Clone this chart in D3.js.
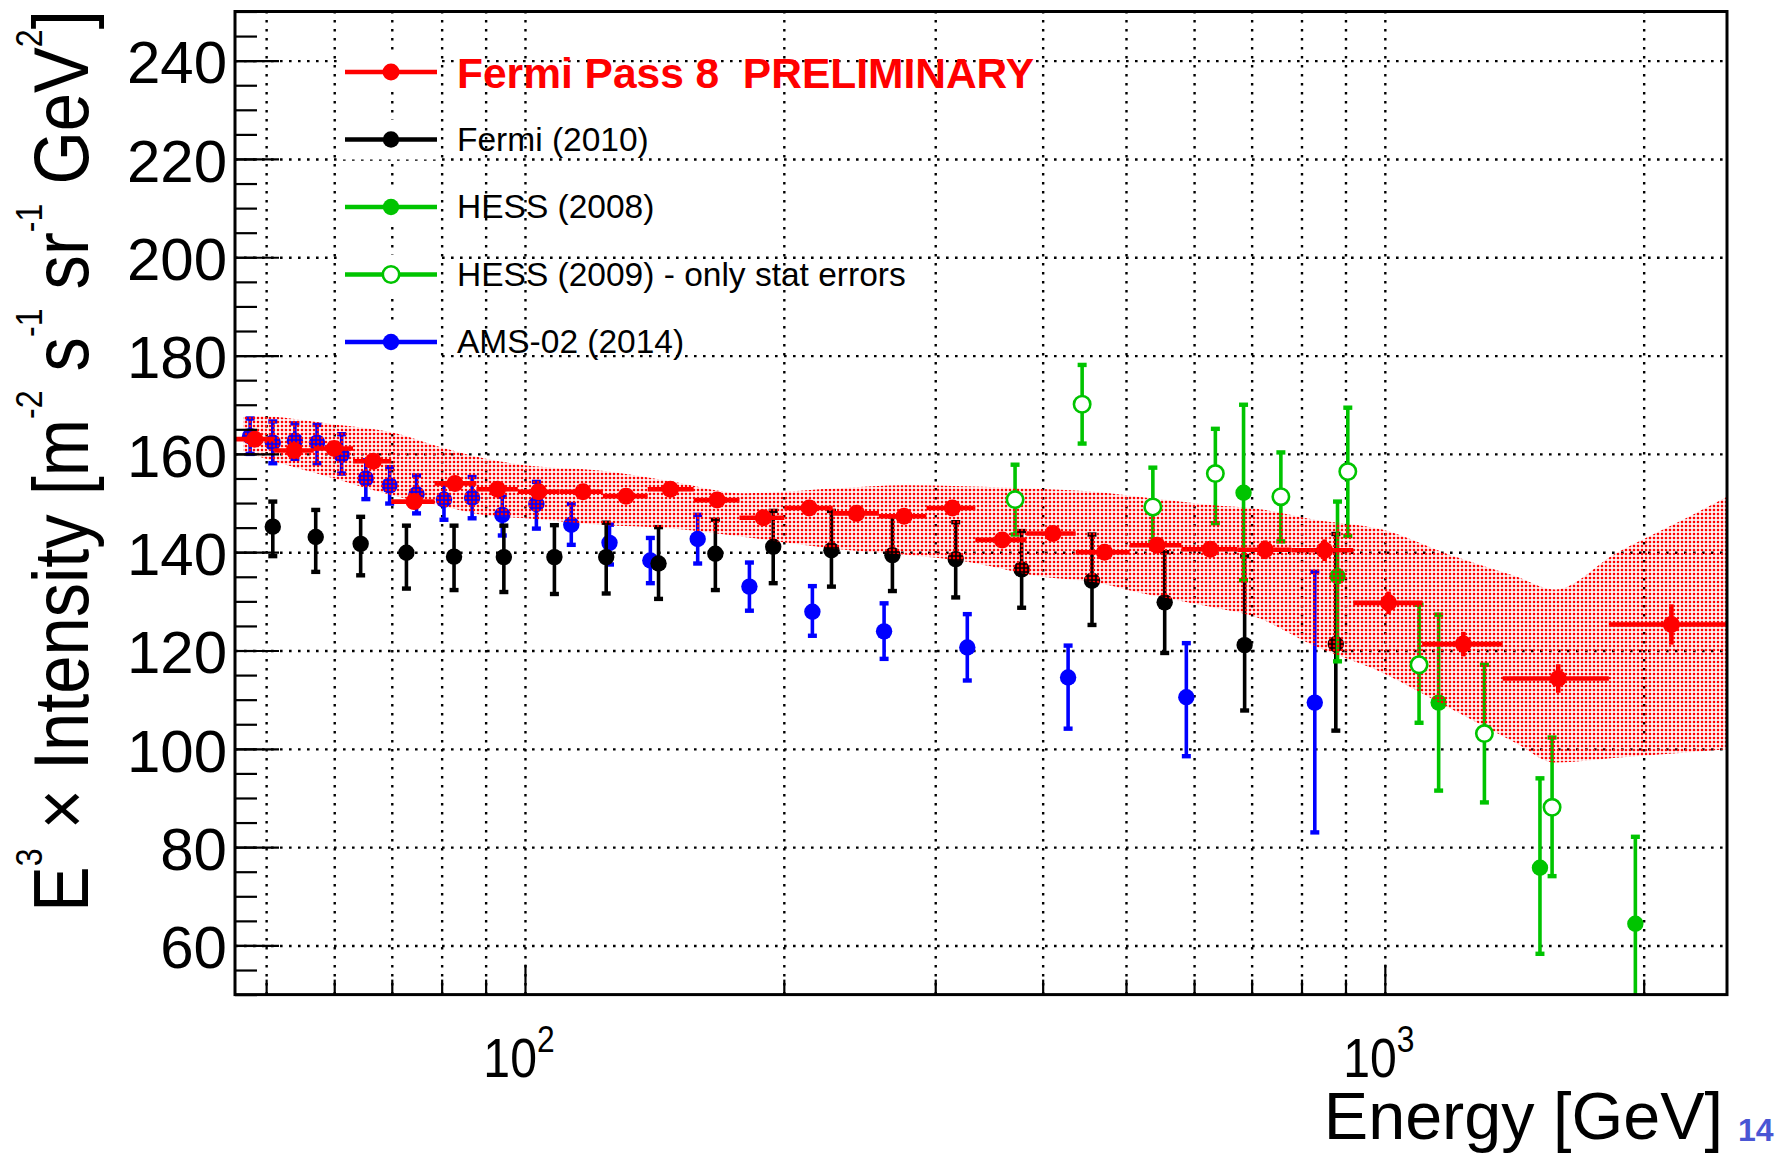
<!DOCTYPE html>
<html>
<head>
<meta charset="utf-8">
<script src="https://cdn.jsdelivr.net/npm/d3@7"></script>
<style>
  body { margin: 0; background: #fff; }
  svg { display: block; }
  text { font-family: "Liberation Sans", Arial, Helvetica, sans-serif; }
</style>
</head>
<body>
<svg id="chart" width="1777" height="1154"></svg>
<script>
// ---------------- data ----------------
// Fermi Pass 8 (preliminary): bin centres, E^3 x intensity, stat errors, bin edges
const pass8E    = [48.5, 53.9, 60.0, 66.6, 74.3, 82.9, 92.9, 103.7, 116.8, 131.1, 147.6, 167.3, 189.3, 214.1,
                   243.0, 276.0, 314.1, 358.9, 411.1, 472.1, 543.3, 626.6, 726, 851, 1010, 1234, 1591, 2154];
const pass8V    = [163.0, 160.7, 161.1, 158.5, 150.3, 154.0, 152.8, 152.3, 152.3, 151.4, 152.8, 150.6, 147.0, 149.0,
                   147.9, 147.3, 149.0, 142.5, 143.8, 140.0, 141.4, 140.6, 140.5, 140.4, 129.7, 121.3, 114.3, 125.3];
const pass8Err  = [1.0, 1.0, 1.0, 1.0, 1.0, 1.0, 1.0, 1.0, 1.0, 1.0, 1.0, 1.0, 1.0, 1.0,
                   1.0, 1.0, 1.2, 1.2, 1.3, 1.4, 1.5, 1.6, 1.9, 2.2, 2.3, 2.5, 2.9, 4.1];
const pass8Edges = [46, 51.1, 56.8, 63.1, 69.9, 78.5, 87.8, 98.1, 109.7, 123.2, 138.9, 157.1, 177.6, 200.3, 228,
                    258, 293, 334, 383, 437, 505, 580, 674, 779, 919, 1105, 1371, 1822, 2500];

// Pass 8 systematic band
const bandE  = [47, 48.5, 60, 70, 80, 90, 100, 122, 146, 180, 232, 277, 323, 393, 473, 517, 565, 618, 713,
                829, 993, 1189, 1420, 1577, 1857, 2222, 2500];
const bandLo = [160.5, 159.7, 155.0, 151.6, 149.4, 147.5, 146.9, 145.6, 144.9, 143.1, 140.6, 139.5, 138.2, 135.2,
                133.5, 131.8, 130.5, 129.1, 126.6, 120.9, 115.5, 108.3, 101.2, 97.2, 98.2, 99.2, 99.9];
const bandHi = [167.5, 167.7, 166.0, 164.4, 161.3, 159.0, 157.7, 156.6, 154.6, 152.0, 153.0, 153.6, 153.4, 152.9,
                152.1, 151.3, 150.5, 149.7, 148.8, 146.6, 144.6, 139.5, 135.1, 132.4, 139.8, 146.6, 151.3];

// Fermi (2010)
const fermi10E  = [50.9, 57.1, 64.4, 72.8, 82.7, 94.5, 108.2, 124.3, 143.0, 166.5, 194.4, 227.2, 267.5, 316.9,
                   378.1, 456.5, 554.6, 687, 877];
const fermi10V  = [145.2, 143.1, 141.7, 139.9, 139.1, 139.0, 139.0, 139.0, 137.7, 139.7, 141.1, 140.4, 139.4, 138.6,
                   136.5, 134.2, 129.8, 121.1, 121.3];
const fermi10Hi = [150.3, 148.6, 147.2, 145.4, 145.4, 145.4, 145.5, 146.0, 145.1, 146.6, 148.4, 148.4, 147.3, 146.1,
                   144.3, 143.6, 140.0, 139.2, 143.7];
const fermi10Lo = [139.2, 136.0, 135.3, 132.6, 132.3, 131.9, 131.5, 131.6, 130.5, 132.3, 133.7, 133.0, 132.1, 130.8,
                   128.7, 125.2, 119.5, 107.8, 103.7];

// AMS-02 (2014)
const amsE  = [47.9, 50.9, 54.0, 57.3, 61.2, 65.3, 69.6, 74.8, 80.5, 86.8, 94.1, 103.1, 113.2, 125.4, 139.9,
               158.8, 182.4, 215.9, 261.6, 326.9, 428.2, 587.7, 829];
const amsV  = [163.6, 162.3, 162.7, 162.3, 159.8, 155.0, 153.6, 151.8, 150.7, 151.1, 147.6, 149.8, 145.6, 141.9,
               138.3, 142.7, 133.0, 127.9, 123.9, 120.6, 114.5, 110.5, 109.4];
const amsHi = [167.2, 166.6, 166.2, 165.9, 164.0, 158.7, 157.3, 155.6, 154.0, 155.3, 151.3, 154.3, 149.8, 145.6,
               142.9, 147.6, 137.9, 133.1, 129.6, 127.4, 121.0, 121.5, 136.0];
const amsLo = [160.0, 158.1, 159.0, 158.1, 156.0, 150.8, 149.9, 147.9, 146.6, 146.9, 143.4, 144.8, 141.5, 137.5,
               133.7, 137.7, 128.1, 123.0, 118.3, 113.9, 104.1, 98.5, 83.0];

// HESS (2008)
const hess08E  = [685, 881, 1155, 1515, 1956];
const hess08V  = [152.1, 135.1, 109.4, 75.8, 64.4];
const hess08Hi = [170.0, 150.3, 127.3, 94.0, 82.1];
const hess08Lo = [134.3, 117.8, 91.5, 58.3, 48.0];

// HESS (2009), statistical errors only
const hess09E  = [371.5, 444.6, 537.3, 635.2, 757, 905.6, 1096, 1305.6, 1565];
const hess09V  = [150.7, 170.1, 149.2, 156.0, 151.3, 156.4, 117.1, 103.1, 88.1];
const hess09Hi = [157.8, 178.1, 157.2, 165.1, 160.3, 169.4, 129.3, 117.1, 102.3];
const hess09Lo = [143.6, 162.1, 142.1, 145.9, 142.2, 143.3, 105.3, 89.1, 74.1];

// axis ticks and legend
const xTicksMajor = [100, 1000];
const xTicksMinor = [50, 60, 70, 80, 90, 200, 300, 400, 500, 600, 700, 800, 900, 2000];
const yTicksMajor = [60, 80, 100, 120, 140, 160, 180, 200, 220, 240];
const legendLabels = ["Fermi Pass 8  PRELIMINARY", "Fermi (2010)", "HESS (2008)", "HESS (2009) - only stat errors", "AMS-02 (2014)"];

// ---------------- layout ----------------
const RED = "#ff0000", BLACK = "#000000", GREEN = "#00c400", BLUE = "#0000ff";
const frame = { left: 235, right: 1727, top: 11.5, bottom: 994.6 };
const plotW = frame.right - frame.left, plotH = frame.bottom - frame.top;
const R_MARK = 8.2;

const x = d3.scaleLog().domain([46, 2500]).range([frame.left, frame.right]);
const y = d3.scaleLinear().domain([50, 250]).range([frame.bottom, frame.top]);

const svg = d3.select("#chart");
const defs = svg.append("defs");
defs.append("clipPath").attr("id", "plotClip")
  .append("rect").attr("x", frame.left).attr("y", frame.top).attr("width", plotW).attr("height", plotH);
const dots = defs.append("pattern").attr("id", "redDots")
  .attr("patternUnits", "userSpaceOnUse").attr("width", 4).attr("height", 4);
dots.append("rect").attr("x", 0.8).attr("y", 0.8).attr("width", 2.4).attr("height", 2.4).attr("fill", RED);

// ---------------- grid ----------------
const gridG = svg.append("g").attr("class", "grid");
gridG.append("g").attr("transform", `translate(0,${frame.bottom})`)
  .call(d3.axisBottom(x).tickValues(xTicksMajor.concat(xTicksMinor)).tickSize(-plotH).tickFormat(""))
  .call(g => g.select(".domain").remove());
gridG.append("g").attr("transform", `translate(${frame.left},0)`)
  .call(d3.axisLeft(y).tickValues(yTicksMajor).tickSize(-plotW).tickFormat(""))
  .call(g => g.select(".domain").remove());
gridG.selectAll("line").attr("stroke", "#000").attr("stroke-width", 2.4).attr("stroke-dasharray", "2.6,6.4");

// ---------------- data layers ----------------
const dataG = svg.append("g").attr("clip-path", "url(#plotClip)");

function rows(E, V, lo, hi) {
  return E.map((e, i) => ({ e, v: V[i], lo: lo[i], hi: hi[i] }));
}

function errorBars(g, pts, color) {
  const b = g.append("g");
  b.selectAll("line").data(pts).join("line")
    .attr("x1", d => x(d.e)).attr("x2", d => x(d.e))
    .attr("y1", d => y(d.lo)).attr("y2", d => y(d.hi))
    .attr("stroke", color).attr("stroke-width", 3.6);
  const ends = pts.flatMap(d => [d.lo, d.hi].map(v => ({ e: d.e, v })));
  b.selectAll("rect").data(ends).join("rect")
    .attr("x", d => x(d.e) - 4.5).attr("y", d => y(d.v) - 2.2)
    .attr("width", 9).attr("height", 4.4).attr("fill", color);
}

function filledMarkers(g, pts, color, r) {
  g.append("g").selectAll("circle").data(pts).join("circle")
    .attr("cx", d => x(d.e)).attr("cy", d => y(d.v)).attr("r", r).attr("fill", color);
}

const ams = rows(amsE, amsV, amsLo, amsHi);
const fermi10 = rows(fermi10E, fermi10V, fermi10Lo, fermi10Hi);
const hess08 = rows(hess08E, hess08V, hess08Lo, hess08Hi);
const hess09 = rows(hess09E, hess09V, hess09Lo, hess09Hi);

errorBars(dataG, hess09, GREEN);
errorBars(dataG, ams, BLUE);      filledMarkers(dataG, ams, BLUE, R_MARK);
errorBars(dataG, fermi10, BLACK); filledMarkers(dataG, fermi10, BLACK, R_MARK);
errorBars(dataG, hess08, GREEN);  filledMarkers(dataG, hess08, GREEN, R_MARK);

// systematic band
const band = bandE.map((e, i) => ({ e, lo: bandLo[i], hi: bandHi[i] }));
dataG.append("path").datum(band)
  .attr("d", d3.area().x(d => x(d.e)).y0(d => y(d.lo)).y1(d => y(d.hi)).curve(d3.curveMonotoneX))
  .attr("fill", "url(#redDots)");

// HESS 2009 open markers
dataG.append("g").selectAll("circle").data(hess09).join("circle")
  .attr("cx", d => x(d.e)).attr("cy", d => y(d.v)).attr("r", R_MARK)
  .attr("fill", "#fff").attr("stroke", GREEN).attr("stroke-width", 2.6);

// Pass 8 points with bin-width bars
const pass8 = pass8E.map((e, i) => ({ e, v: pass8V[i], err: pass8Err[i], x0: pass8Edges[i], x1: pass8Edges[i + 1] }));
const p8G = dataG.append("g");
p8G.selectAll("line.h").data(pass8).join("line").attr("class", "h")
  .attr("x1", d => x(d.x0)).attr("x2", d => x(d.x1))
  .attr("y1", d => y(d.v)).attr("y2", d => y(d.v))
  .attr("stroke", RED).attr("stroke-width", 4.6);
p8G.selectAll("line.v").data(pass8).join("line").attr("class", "v")
  .attr("x1", d => x(d.e)).attr("x2", d => x(d.e))
  .attr("y1", d => y(d.v - d.err)).attr("y2", d => y(d.v + d.err))
  .attr("stroke", RED).attr("stroke-width", 4.6);
filledMarkers(p8G, pass8, RED, 8.5);

// ---------------- axes ----------------
const axG = svg.append("g");
axG.append("g").attr("transform", `translate(0,${frame.bottom})`)
  .call(d3.axisBottom(x).tickValues(xTicksMinor).tickSize(-15).tickFormat(""));
axG.append("g").attr("transform", `translate(0,${frame.bottom})`)
  .call(d3.axisBottom(x).tickValues(xTicksMajor).tickSize(-30).tickFormat(""));
axG.append("g").attr("transform", `translate(${frame.left},0)`)
  .call(d3.axisLeft(y).tickValues(d3.range(50, 251, 5)).tickSize(-22).tickFormat(""));
const yAxis = axG.append("g").attr("transform", `translate(${frame.left},0)`)
  .call(d3.axisLeft(y).tickValues(yTicksMajor).tickSize(-44).tickPadding(8).tickFormat(d3.format("d")));
yAxis.selectAll("text").attr("font-size", 60).attr("dy", "0.37em").attr("fill", "#000")
  .style("font-family", '"Liberation Sans", Arial, sans-serif');
axG.selectAll(".domain").remove();
axG.selectAll(".tick line").attr("stroke", "#000").attr("stroke-width", 2.2);

svg.append("rect").attr("x", frame.left).attr("y", frame.top).attr("width", plotW).attr("height", plotH)
  .attr("fill", "none").attr("stroke", "#000").attr("stroke-width", 3);

// x tick labels 10^n
xTicksMajor.forEach(v => {
  const t = svg.append("text").attr("transform", `translate(${x(v) - 6},1077) scale(0.86,1)`)
    .attr("text-anchor", "middle").attr("font-size", 56).attr("fill", "#000");
  t.append("tspan").text("10");
  t.append("tspan").attr("font-size", 37).attr("dy", -25).text(String(Math.round(Math.log10(v))));
});

// axis titles
svg.append("text").attr("x", 1723).attr("y", 1139).attr("text-anchor", "end")
  .attr("font-size", 66.5).attr("fill", "#000").text("Energy [GeV]");

const yTitle = svg.append("text").attr("font-size", 77).attr("fill", "#000");
const titleParts = [["E", 0], ["3", 1], [" \u00d7 Intensity [m", 0], ["-2", 1], [" s", 0], ["-1", 1],
                    [" sr", 0], ["-1", 1], [" GeV", 0], ["2", 1], ["]", 0]];
let raised = false;
titleParts.forEach(([t, sup]) => {
  const ts = yTitle.append("tspan").style("white-space", "pre").text(t);
  if (sup) { ts.attr("font-size", 36).attr("dy", raised ? 0 : -46); raised = true; }
  else if (raised) { ts.attr("dy", 46); raised = false; }
});
const titleLen = yTitle.node().getComputedTextLength();
yTitle.attr("transform", `translate(88,912) rotate(-90) scale(${902 / titleLen},1)`);

// ---------------- legend ----------------
const legendStyles = [
  { color: RED, open: false, r: 8.5 },
  { color: BLACK, open: false, r: R_MARK },
  { color: GREEN, open: false, r: R_MARK },
  { color: GREEN, open: true, r: R_MARK },
  { color: BLUE, open: false, r: R_MARK }
];
const legG = svg.append("g");
legendLabels.forEach((label, i) => {
  const cy = 72 + i * 67.5;
  const st = legendStyles[i];
  legG.append("rect").attr("x", 342).attr("y", cy - 20).attr("width", 98).attr("height", 40).attr("fill", "#fff");
  legG.append("line").attr("x1", 345).attr("x2", 437).attr("y1", cy).attr("y2", cy)
    .attr("stroke", st.color).attr("stroke-width", 4.4);
  legG.append("circle").attr("cx", 391).attr("cy", cy).attr("r", st.r)
    .attr("fill", st.open ? "#fff" : st.color)
    .attr("stroke", st.open ? st.color : "none").attr("stroke-width", 2.6);
  const t = legG.append("text").attr("x", 457).style("white-space", "pre").text(label);
  if (i === 0) {
    t.attr("y", cy + 16).attr("font-size", 42.5).attr("font-weight", "bold").attr("fill", RED);
  } else {
    t.attr("y", cy + 11).attr("font-size", 33.5).attr("fill", "#000");
  }
});

// slide number
svg.append("text").attr("x", 1738).attr("y", 1141).attr("font-size", 32).attr("font-weight", "bold")
  .attr("fill", "#4a56d4").text("14");
</script>
</body>
</html>
